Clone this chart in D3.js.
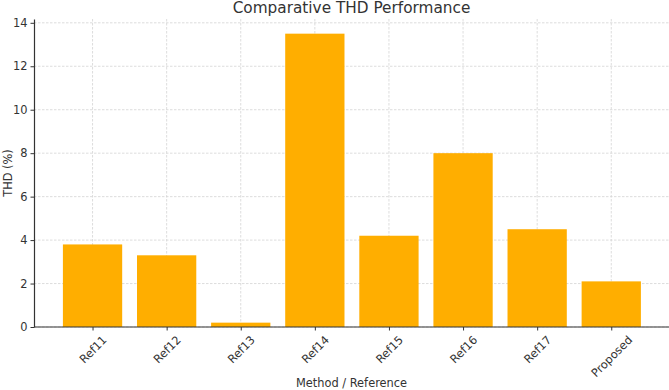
<!DOCTYPE html>
<html lang="en">
<head>
<meta charset="UTF-8"/>
<title>Comparative THD Performance</title>
<script src="https://d3js.org/d3.v7.js"></script>
<style>
  body { margin: 0; background: #fff; }
  text { font-family: "DejaVu Sans", sans-serif; }
</style>
</head>
<body>
<div id="chart"></div>
<script>
// data
const methods = ["Ref11", "Ref12", "Ref13", "Ref14", "Ref15", "Ref16", "Ref17", "Proposed"];
const thd = [3.8, 3.3, 0.2, 13.5, 4.2, 8.0, 4.5, 2.1];
const yTicks = [0, 2, 4, 6, 8, 10, 12, 14];

const W = 669, H = 390;
const margin = {top: 19, right: 0, bottom: 63, left: 34};
const fs = 11.4;

const svg = d3.select("#chart")
  .append("svg")
    .attr("width", W)
    .attr("height", H);

// x as a linear index scale, like matplotlib's bar layout
const x = d3.scaleLinear()
  .domain([-0.79, methods.length - 1 + 0.79])
  .range([margin.left, W - margin.right + 0.8]);
const barW = 0.8;

const y = d3.scaleLinear()
  .domain([0, 14.175])
  .range([H - margin.bottom, margin.top]);

// grid
const grid = svg.append("g");
grid.selectAll("line.h")
  .data(yTicks)
  .join("line")
    .attr("x1", margin.left).attr("x2", W)
    .attr("y1", d => y(d)).attr("y2", d => y(d))
    .attr("stroke", "#d4d4d4")
    .attr("stroke-width", 0.8)
    .attr("stroke-dasharray", "2.5,1.5");
grid.selectAll("line.v")
  .data(methods)
  .join("line")
    .attr("x1", (d, i) => x(i)).attr("x2", (d, i) => x(i))
    .attr("y1", margin.top).attr("y2", y(0))
    .attr("stroke", "#d4d4d4")
    .attr("stroke-width", 0.8)
    .attr("stroke-dasharray", "2.5,1.5");

// bars
svg.append("g")
  .selectAll("rect")
  .data(thd)
  .join("rect")
    .attr("x", (d, i) => x(i - barW / 2))
    .attr("width", (d, i) => x(i + barW / 2) - x(i - barW / 2))
    .attr("y", d => y(d))
    .attr("height", d => y(0) - y(d))
    .attr("fill", "#ffae00");

// axes
const xAxis = svg.append("g")
  .attr("transform", `translate(0,${y(0)})`)
  .call(d3.axisBottom(x).tickValues(d3.range(methods.length)).tickFormat(i => methods[i]).tickSize(3.5).tickSizeOuter(0));
xAxis.select(".domain").attr("d", `M${margin.left},0H${W}`);
// rotated labels centred under the tick, top of the rotated box just below it
xAxis.selectAll(".tick text")
  .attr("font-size", fs)
  .attr("fill", "#333")
  .attr("text-anchor", "middle")
  .attr("dy", null)
  .attr("dominant-baseline", "central")
  .each(function () {
    const w = this.getComputedTextLength();
    const side = (w + fs * 0.95) / Math.SQRT2;
    const cy = 7 + side / 2;
    d3.select(this)
      .attr("y", cy)
      .attr("transform", `rotate(-45,0,${cy})`);
  });

const yAxis = svg.append("g")
  .attr("transform", `translate(${margin.left},0)`)
  .call(d3.axisLeft(y).tickValues(yTicks).tickSize(3.5).tickSizeOuter(0));
yAxis.selectAll("text").attr("font-size", fs).attr("fill", "#333");

svg.selectAll(".domain").attr("stroke", "#333").attr("stroke-width", 1.2);
svg.selectAll(".tick line").attr("stroke", "#333");

// labels
svg.append("text")
  .attr("x", (margin.left + W) / 2)
  .attr("y", 13)
  .attr("text-anchor", "middle")
  .attr("font-size", 15.3)
  .attr("fill", "#333")
  .text("Comparative THD Performance");

svg.append("text")
  .attr("x", (margin.left + W) / 2)
  .attr("y", 387)
  .attr("text-anchor", "middle")
  .attr("font-size", fs)
  .attr("fill", "#333")
  .text("Method / Reference");

svg.append("text")
  .attr("transform", `translate(12,${(margin.top + y(0)) / 2}) rotate(-90)`)
  .attr("text-anchor", "middle")
  .attr("font-size", fs)
  .attr("fill", "#333")
  .text("THD (%)");
</script>
</body>
</html>
